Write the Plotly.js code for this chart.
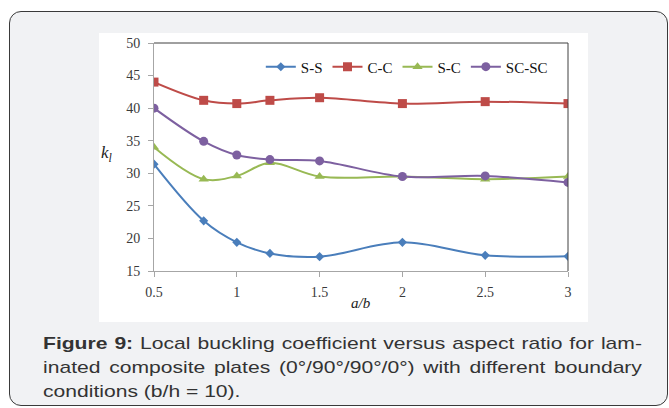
<!DOCTYPE html>
<html>
<head>
<meta charset="utf-8">
<script src="https://cdn.plot.ly/plotly-3.0.1.min.js"></script>
<style>
  html, body { margin:0; padding:0; background:#ffffff; width:669px; height:408px; overflow:hidden; }
  #frame { position:absolute; left:9px; top:11px; width:657px; height:393px; border:1px solid #3a3a3a; border-radius:12px; background:#f1f2f4; }
  #img { position:absolute; left:99px; top:33px; width:489px; height:289px; background:#ffffff; }
  #chart { position:absolute; left:0; top:0; width:669px; height:408px; }
  #caption { position:absolute; left:43px; top:332px; width:483px; font-family:"Liberation Sans", Arial, sans-serif; font-size:17px; line-height:24px; color:#333333; transform:scaleX(1.24); transform-origin:0 0; }
  #caption .j { text-align:justify; text-align-last:justify; white-space:nowrap; display:block; }
  #caption .l { display:block; white-space:nowrap; }
</style>
</head>
<body>
<div id="frame"></div>
<div id="img"></div>
<div id="chart"></div>
<div id="caption">
  <span class="j"><b>Figure 9:</b> Local buckling coefficient versus aspect ratio for lam-</span>
  <span class="j">inated composite plates (0°/90°/90°/0°) with different boundary</span>
  <span class="l">conditions (b/h = 10).</span>
</div>
<script>
// Data
const aspectRatio = [0.5, 0.8, 1, 1.2, 1.5, 2, 2.5, 3];
const kSS   = [31.4, 22.7, 19.4, 17.7, 17.2, 19.4, 17.4, 17.25];
const kCC   = [44.0, 41.2, 40.7, 41.2, 41.6, 40.7, 41.0, 40.7];
const kSC   = [34.0, 29.1, 29.6, 31.6, 29.5, 29.5, 29.1, 29.5];
const kSCSC = [40.0, 34.9, 32.8, 32.1, 31.9, 29.5, 29.6, 28.6];
const seriesNames = ['S-S', 'C-C', 'S-C', 'SC-SC'];
const xTicks = [0.5, 1, 1.5, 2, 2.5, 3];
const xTickText = ['0.5', '1', '1.5', '2', '2.5', '3'];
const yTicks = [15, 20, 25, 30, 35, 40, 45, 50];

const colors = ['#4a7ebb', '#be4b48', '#98b954', '#7d60a0'];
const symbols = ['diamond', 'square', 'triangle-up', 'circle'];
const sizes = [7, 9, 9, 9];
const ys = [kSS, kCC, kSC, kSCSC];

const traces = ys.map((y, i) => ({
  x: aspectRatio,
  y: y,
  name: seriesNames[i],
  type: 'scatter',
  mode: 'lines+markers',
  line: { color: colors[i], width: 2, shape: 'spline', smoothing: 1 },
  marker: { color: colors[i], symbol: symbols[i], size: sizes[i] }
}));

const serif = '"Liberation Serif", "Times New Roman", serif';
const tickFont = { family: serif, size: 14, color: '#3a3a3a' };

const layout = {
  width: 669, height: 408,
  margin: { l: 154, r: 101, t: 43, b: 137 },
  paper_bgcolor: 'rgba(0,0,0,0)',
  plot_bgcolor: '#ffffff',
  showlegend: true,
  legend: {
    orientation: 'h', x: 0.258, y: 0.895, xanchor: 'left', yanchor: 'middle',
    bgcolor: 'rgba(0,0,0,0)',
    font: { family: serif, size: 15, color: '#111111' },
    itemwidth: 30, tracegroupgap: 0
  },
  xaxis: {
    range: [0.5, 3], tickvals: xTicks, ticktext: xTickText,
    showgrid: false, zeroline: false,
    showline: true, linecolor: '#a6a6a6', linewidth: 1,
    ticks: 'outside', ticklen: 5, tickcolor: '#a6a6a6',
    ticklabelstandoff: 3,
    tickfont: tickFont
  },
  yaxis: {
    range: [15, 50], tickvals: yTicks,
    showgrid: false, zeroline: false,
    showline: true, linecolor: '#a6a6a6', linewidth: 1,
    ticks: 'outside', ticklen: 5, tickcolor: '#a6a6a6',
    ticklabelstandoff: 5,
    tickfont: tickFont
  },
  shapes: [
    { type: 'line', xref: 'paper', yref: 'paper', x0: 0, x1: 1, y0: 1, y1: 1, line: { color: '#404040', width: 1 } },
    { type: 'line', xref: 'paper', yref: 'paper', x0: 1, x1: 1, y0: 0, y1: 1, line: { color: '#404040', width: 1 } }
  ],
  annotations: [
    { text: '<i>k<sub>l</sub></i>', xref: 'paper', yref: 'paper', x: -0.113, y: 0.513,
      showarrow: false, xanchor: 'center', yanchor: 'middle',
      font: { family: serif, size: 17, color: '#222222' } },
    { text: '<i>a/b</i>', xref: 'paper', yref: 'paper', x: 0.5, y: -0.14,
      showarrow: false, xanchor: 'center', yanchor: 'middle',
      font: { family: serif, size: 15, color: '#222222' } }
  ]
};

Plotly.newPlot('chart', traces, layout, { displayModeBar: false, staticPlot: true });
</script>
</body>
</html>
